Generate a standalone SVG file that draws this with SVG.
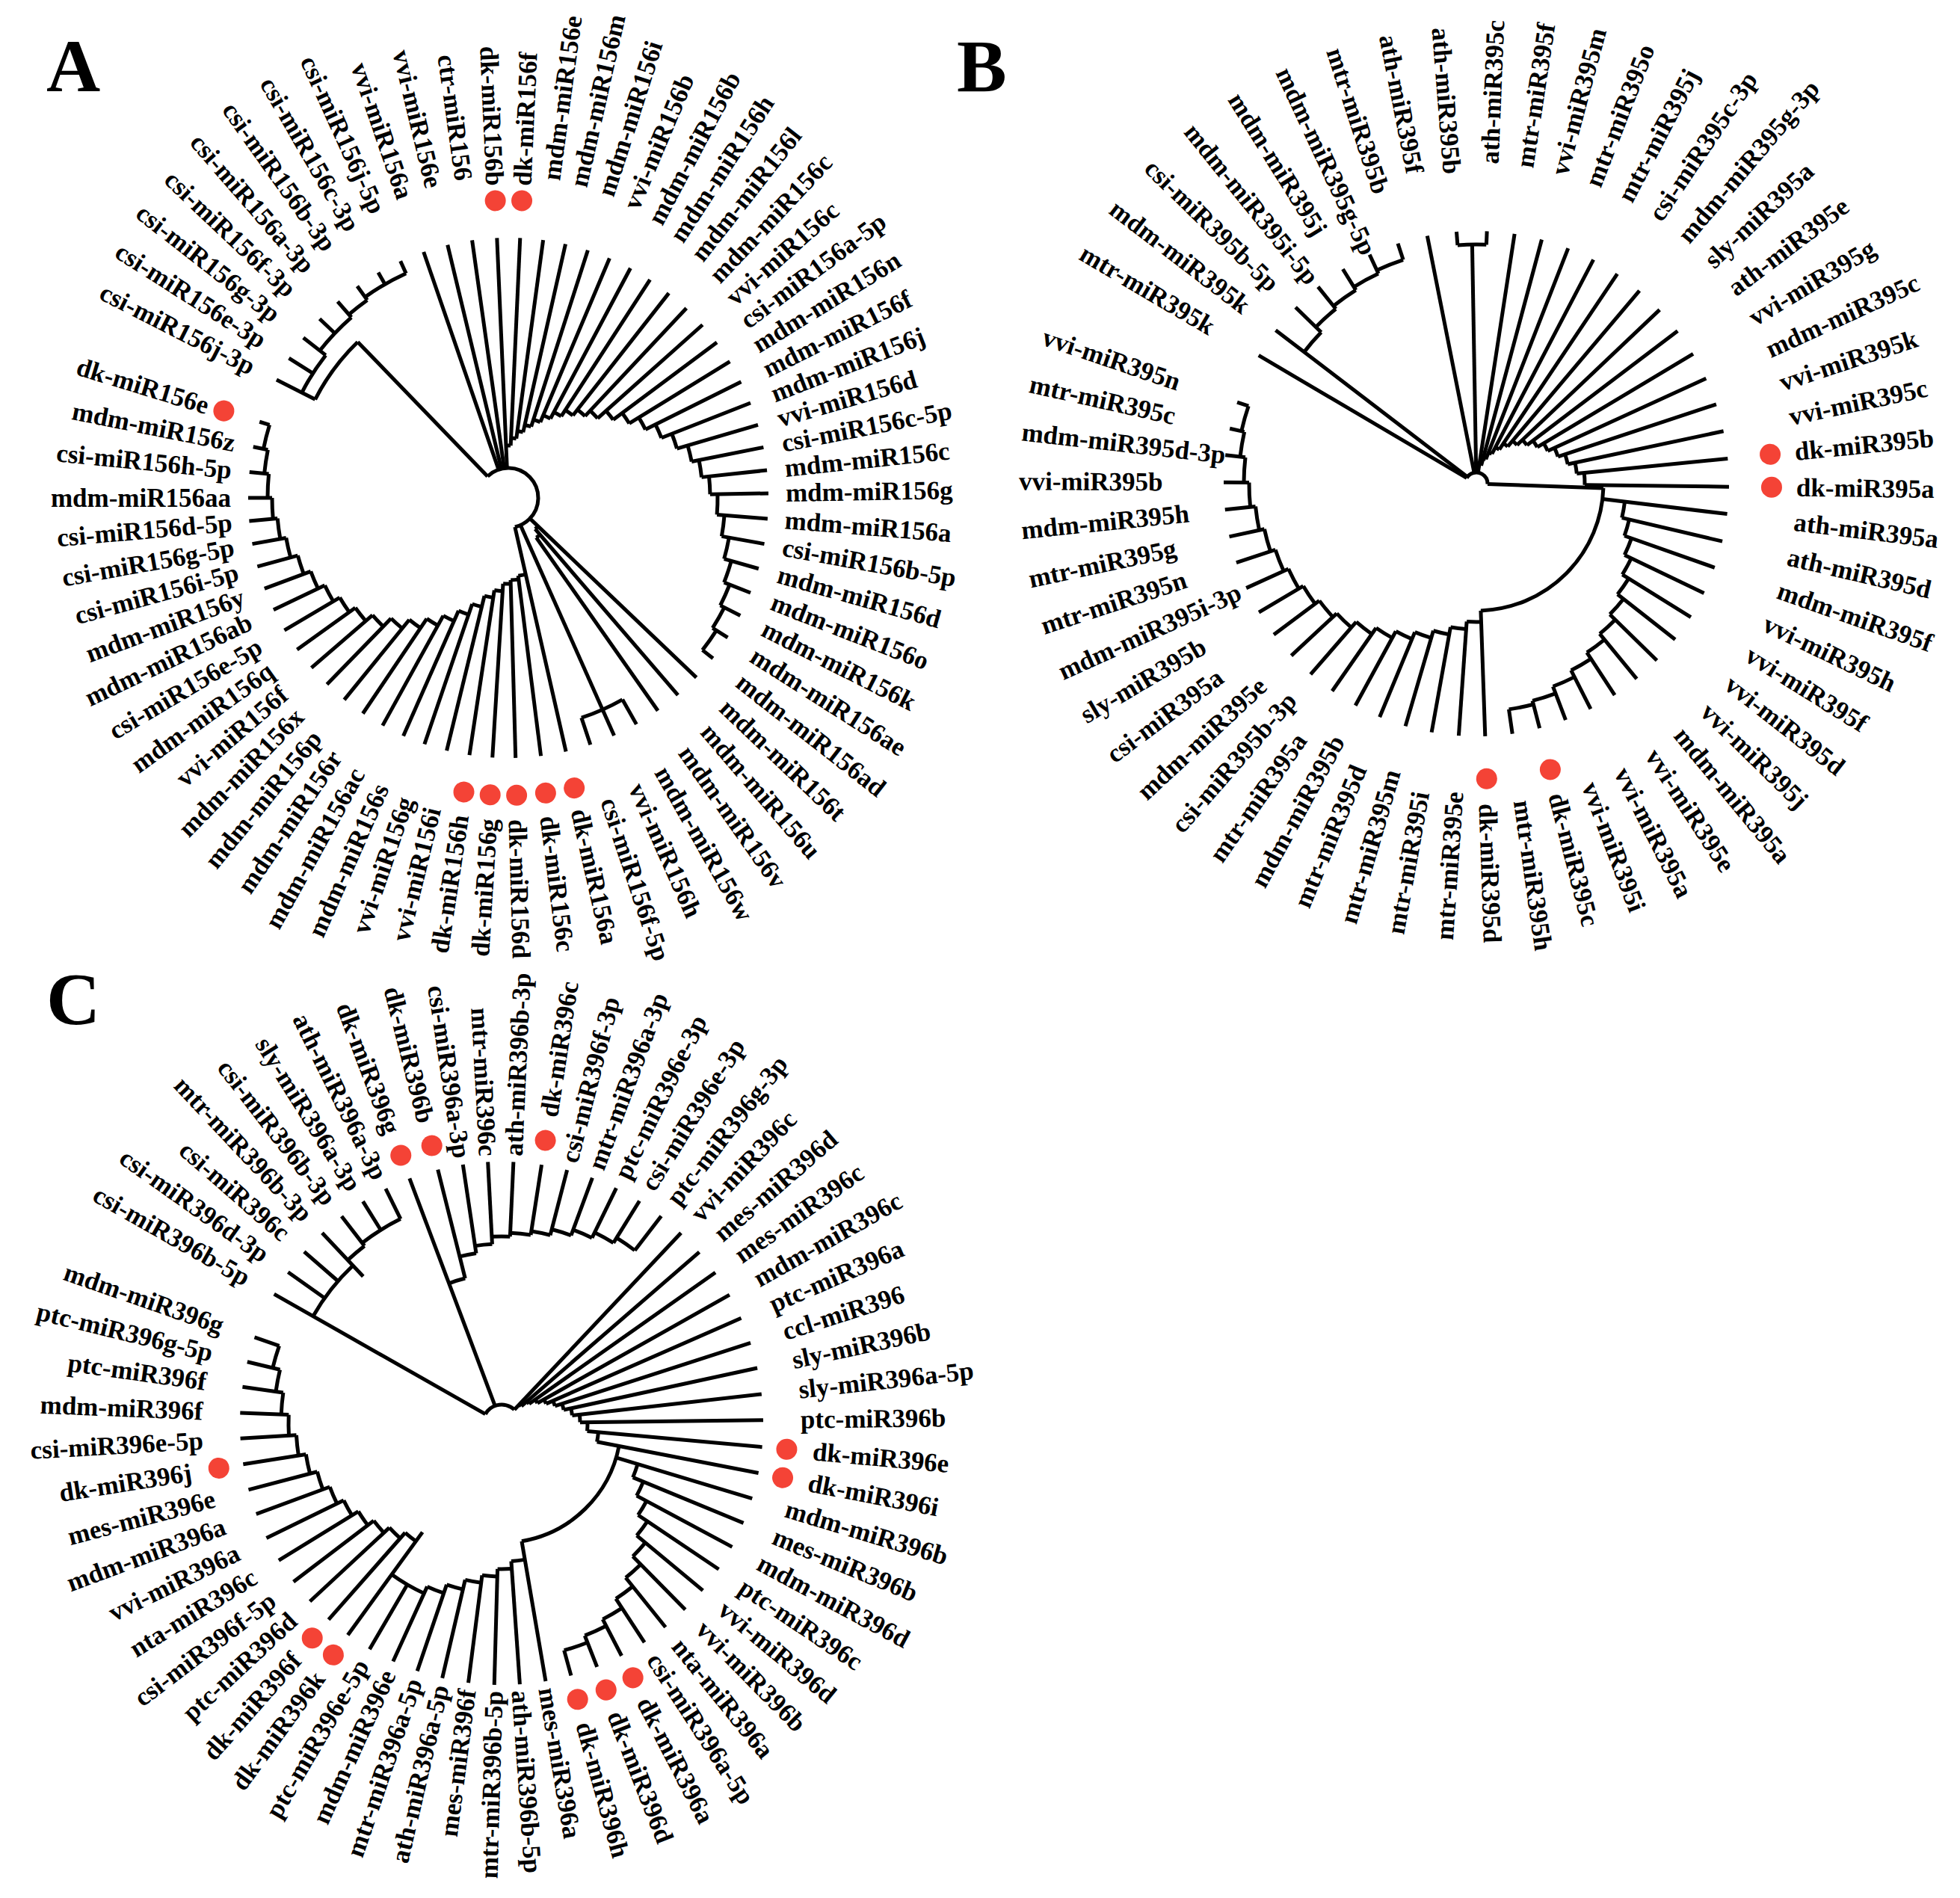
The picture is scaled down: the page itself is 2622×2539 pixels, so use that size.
<svg xmlns="http://www.w3.org/2000/svg" width="2622" height="2539" viewBox="0 0 2622 2539">
<style>
.t text{font-family:"Liberation Serif","Times New Roman",serif;font-weight:bold;font-size:35px;fill:#000;dominant-baseline:central}
.t .f{text-anchor:end}
.t .n{text-anchor:start}
.br line,.br circle{stroke:#000;stroke-width:5;fill:none}
.dots circle{fill:#f44336;stroke:none}
.lt{font-family:"Liberation Serif","Times New Roman",serif;font-weight:bold;font-size:100px;fill:#000}
</style>
<rect width="2622" height="2539" fill="#fff"/>
<text class="lt" x="62" y="122">A</text>
<text class="lt" x="1280" y="122">B</text>
<text class="lt" x="62" y="1370">C</text>

<!-- TREE A -->
<g id="treeA" transform="translate(680,666)">
<g id="A-connectors" class="br">
<circle r="40" pathLength="360" stroke-dasharray="211.2 360" transform="rotate(226)"/>
<line x1="40" x2="290" transform="rotate(226)"/>
<circle r="290" pathLength="360" stroke-dasharray="19 360" transform="rotate(207)"/>
<circle r="310" pathLength="360" stroke-dasharray="11 360" transform="rotate(207)"/>
<circle r="320" pathLength="360" stroke-dasharray="11 360" transform="rotate(218)"/>
<circle r="325" pathLength="360" stroke-dasharray="5.5 360" transform="rotate(229)"/>
<circle r="330" pathLength="360" stroke-dasharray="11 360" transform="rotate(234.5)"/>
<circle r="70" pathLength="360" stroke-dasharray="5.1 360" transform="rotate(267.5)"/>
<circle r="80" pathLength="360" stroke-dasharray="5.1 360" transform="rotate(272.6)"/>
<circle r="90" pathLength="360" stroke-dasharray="5 360" transform="rotate(277.7)"/>
<circle r="100" pathLength="360" stroke-dasharray="5.1 360" transform="rotate(282.7)"/>
<circle r="110" pathLength="360" stroke-dasharray="5.1 360" transform="rotate(287.8)"/>
<circle r="120" pathLength="360" stroke-dasharray="5.1 360" transform="rotate(292.9)"/>
<circle r="130" pathLength="360" stroke-dasharray="5 360" transform="rotate(298)"/>
<circle r="140" pathLength="360" stroke-dasharray="5.1 360" transform="rotate(303)"/>
<circle r="150" pathLength="360" stroke-dasharray="5.1 360" transform="rotate(308.1)"/>
<circle r="160" pathLength="360" stroke-dasharray="5.1 360" transform="rotate(313.2)"/>
<circle r="175" pathLength="360" stroke-dasharray="5 360" transform="rotate(318.3)"/>
<circle r="190" pathLength="360" stroke-dasharray="5.1 360" transform="rotate(323.3)"/>
<circle r="205" pathLength="360" stroke-dasharray="5.1 360" transform="rotate(328.4)"/>
<circle r="220" pathLength="360" stroke-dasharray="5.1 360" transform="rotate(333.5)"/>
<circle r="235" pathLength="360" stroke-dasharray="5.1 360" transform="rotate(338.6)"/>
<circle r="250" pathLength="360" stroke-dasharray="5.1 360" transform="rotate(343.7)"/>
<circle r="260" pathLength="360" stroke-dasharray="5.1 360" transform="rotate(348.8)"/>
<circle r="270" pathLength="360" stroke-dasharray="5.1 360" transform="rotate(353.9)"/>
<circle r="280" pathLength="360" stroke-dasharray="5.6 360" transform="rotate(359)"/>
<circle r="290" pathLength="360" stroke-dasharray="5.6 360" transform="rotate(4.6)"/>
<circle r="300" pathLength="360" stroke-dasharray="5.6 360" transform="rotate(10.2)"/>
<circle r="310" pathLength="360" stroke-dasharray="5.6 360" transform="rotate(15.8)"/>
<circle r="318" pathLength="360" stroke-dasharray="5.5 360" transform="rotate(21.4)"/>
<circle r="324" pathLength="360" stroke-dasharray="5.6 360" transform="rotate(26.9)"/>
<circle r="330" pathLength="360" stroke-dasharray="5.6 360" transform="rotate(32.5)"/>
<circle r="55" pathLength="360" stroke-dasharray="5.6 360" transform="rotate(43.7)"/>
<circle r="65" pathLength="360" stroke-dasharray="5.6 360" transform="rotate(49.3)"/>
<line x1="40" x2="310" transform="rotate(66)"/>
<circle r="310" pathLength="360" stroke-dasharray="11.1 360" transform="rotate(60.5)"/>
<circle r="105" pathLength="360" stroke-dasharray="5.6 360" transform="rotate(77.2)"/>
<circle r="110" pathLength="360" stroke-dasharray="5.6 360" transform="rotate(82.8)"/>
<circle r="115" pathLength="360" stroke-dasharray="5.1 360" transform="rotate(88.4)"/>
<circle r="125" pathLength="360" stroke-dasharray="5.1 360" transform="rotate(93.5)"/>
<circle r="135" pathLength="360" stroke-dasharray="5.1 360" transform="rotate(98.6)"/>
<circle r="150" pathLength="360" stroke-dasharray="5.1 360" transform="rotate(103.7)"/>
<circle r="165" pathLength="360" stroke-dasharray="5 360" transform="rotate(108.8)"/>
<circle r="180" pathLength="360" stroke-dasharray="5.1 360" transform="rotate(113.8)"/>
<circle r="195" pathLength="360" stroke-dasharray="5.1 360" transform="rotate(118.9)"/>
<circle r="210" pathLength="360" stroke-dasharray="5.1 360" transform="rotate(124)"/>
<circle r="225" pathLength="360" stroke-dasharray="5.1 360" transform="rotate(129.1)"/>
<circle r="240" pathLength="360" stroke-dasharray="5 360" transform="rotate(134.2)"/>
<circle r="252" pathLength="360" stroke-dasharray="5.1 360" transform="rotate(139.2)"/>
<circle r="262" pathLength="360" stroke-dasharray="5.1 360" transform="rotate(144.3)"/>
<circle r="272" pathLength="360" stroke-dasharray="5.1 360" transform="rotate(149.4)"/>
<circle r="282" pathLength="360" stroke-dasharray="5.1 360" transform="rotate(154.5)"/>
<circle r="292" pathLength="360" stroke-dasharray="5.1 360" transform="rotate(159.6)"/>
<circle r="302" pathLength="360" stroke-dasharray="5.1 360" transform="rotate(164.7)"/>
<circle r="310" pathLength="360" stroke-dasharray="5.1 360" transform="rotate(169.8)"/>
<circle r="316" pathLength="360" stroke-dasharray="5.1 360" transform="rotate(174.9)"/>
<circle r="322" pathLength="360" stroke-dasharray="5.7 360" transform="rotate(180)"/>
<circle r="328" pathLength="360" stroke-dasharray="5.6 360" transform="rotate(185.7)"/>
<circle r="334" pathLength="360" stroke-dasharray="5.7 360" transform="rotate(191.3)"/>
<line x1="290" x2="348" transform="rotate(207)"/>
<line x1="310" x2="348" transform="rotate(212.5)"/>
<line x1="310" x2="348" transform="rotate(218)"/>
<line x1="320" x2="348" transform="rotate(223.5)"/>
<line x1="320" x2="348" transform="rotate(229)"/>
<line x1="325" x2="348" transform="rotate(234.5)"/>
<line x1="330" x2="348" transform="rotate(240)"/>
<line x1="330" x2="348" transform="rotate(245.5)"/>
<line x1="40" x2="348" transform="rotate(251)"/>
<line x1="40" x2="348" transform="rotate(256.5)"/>
<line x1="40" x2="348" transform="rotate(262)"/>
<line x1="40" x2="348" transform="rotate(267.5)"/>
<line x1="70" x2="348" transform="rotate(272.6)"/>
<line x1="80" x2="348" transform="rotate(277.7)"/>
<line x1="90" x2="348" transform="rotate(282.7)"/>
<line x1="100" x2="348" transform="rotate(287.8)"/>
<line x1="110" x2="348" transform="rotate(292.9)"/>
<line x1="120" x2="348" transform="rotate(298)"/>
<line x1="130" x2="348" transform="rotate(303)"/>
<line x1="140" x2="348" transform="rotate(308.1)"/>
<line x1="150" x2="348" transform="rotate(313.2)"/>
<line x1="160" x2="348" transform="rotate(318.3)"/>
<line x1="175" x2="348" transform="rotate(323.3)"/>
<line x1="190" x2="348" transform="rotate(328.4)"/>
<line x1="205" x2="348" transform="rotate(333.5)"/>
<line x1="220" x2="348" transform="rotate(338.6)"/>
<line x1="235" x2="348" transform="rotate(343.7)"/>
<line x1="250" x2="348" transform="rotate(348.8)"/>
<line x1="260" x2="348" transform="rotate(353.9)"/>
<line x1="270" x2="348" transform="rotate(359)"/>
<line x1="280" x2="348" transform="rotate(4.6)"/>
<line x1="290" x2="348" transform="rotate(10.2)"/>
<line x1="300" x2="348" transform="rotate(15.8)"/>
<line x1="310" x2="348" transform="rotate(21.4)"/>
<line x1="318" x2="348" transform="rotate(26.9)"/>
<line x1="324" x2="348" transform="rotate(32.5)"/>
<line x1="330" x2="348" transform="rotate(38.1)"/>
<line x1="40" x2="348" transform="rotate(43.7)"/>
<line x1="55" x2="348" transform="rotate(49.3)"/>
<line x1="65" x2="348" transform="rotate(54.9)"/>
<line x1="310" x2="348" transform="rotate(60.5)"/>
<line x1="310" x2="348" transform="rotate(66)"/>
<line x1="310" x2="348" transform="rotate(71.6)"/>
<line x1="40" x2="348" transform="rotate(77.2)"/>
<line x1="105" x2="348" transform="rotate(82.8)"/>
<line x1="110" x2="348" transform="rotate(88.4)"/>
<line x1="115" x2="348" transform="rotate(93.5)"/>
<line x1="125" x2="348" transform="rotate(98.6)"/>
<line x1="135" x2="348" transform="rotate(103.7)"/>
<line x1="150" x2="348" transform="rotate(108.8)"/>
<line x1="165" x2="348" transform="rotate(113.8)"/>
<line x1="180" x2="348" transform="rotate(118.9)"/>
<line x1="195" x2="348" transform="rotate(124)"/>
<line x1="210" x2="348" transform="rotate(129.1)"/>
<line x1="225" x2="348" transform="rotate(134.2)"/>
<line x1="240" x2="348" transform="rotate(139.2)"/>
<line x1="252" x2="348" transform="rotate(144.3)"/>
<line x1="262" x2="348" transform="rotate(149.4)"/>
<line x1="272" x2="348" transform="rotate(154.5)"/>
<line x1="282" x2="348" transform="rotate(159.6)"/>
<line x1="292" x2="348" transform="rotate(164.7)"/>
<line x1="302" x2="348" transform="rotate(169.8)"/>
<line x1="310" x2="348" transform="rotate(174.9)"/>
<line x1="316" x2="348" transform="rotate(180)"/>
<line x1="322" x2="348" transform="rotate(185.7)"/>
<line x1="328" x2="348" transform="rotate(191.3)"/>
<line x1="334" x2="348" transform="rotate(197)"/>
</g>
<g class="dots">
<circle cx="398" r="14" transform="rotate(267.5)"/>
<circle cx="398" r="14" transform="rotate(272.6)"/>
<circle cx="398" r="14" transform="rotate(77.2)"/>
<circle cx="398" r="14" transform="rotate(82.8)"/>
<circle cx="398" r="14" transform="rotate(88.4)"/>
<circle cx="398" r="14" transform="rotate(93.5)"/>
<circle cx="398" r="14" transform="rotate(98.6)"/>
<circle cx="398" r="14" transform="rotate(197)"/>
</g>
<g id="A-labels" class="t">
<text id="A1" class="f" transform="rotate(207) translate(383,0) rotate(180)">csi-miR156j-3p</text>
<text id="A2" class="f" transform="rotate(212.5) translate(388,0) rotate(180)">csi-miR156e-3p</text>
<text id="A3" class="f" transform="rotate(218) translate(393,0) rotate(180)">csi-miR156g-3p</text>
<text id="A4" class="f" transform="rotate(223.5) translate(399,0) rotate(180)">csi-miR156f-3p</text>
<text id="A5" class="f" transform="rotate(229) translate(405,0) rotate(180)">csi-miR156a-3p</text>
<text id="A6" class="f" transform="rotate(234.5) translate(410,0) rotate(180)">csi-miR156b-3p</text>
<text id="A7" class="f" transform="rotate(240) translate(415,0) rotate(180)">csi-miR156c-3p</text>
<text id="A8" class="f" transform="rotate(245.5) translate(420,0) rotate(180)">csi-miR156j-5p</text>
<text id="A9" class="f" transform="rotate(251) translate(424,0) rotate(180)">vvi-miR156a</text>
<text id="A10" class="f" transform="rotate(256.5) translate(427,0) rotate(180)">vvi-miR156e</text>
<text id="A11" class="f" transform="rotate(262) translate(429,0) rotate(180)">ctr-miR156</text>
<text id="A12" class="f" transform="rotate(267.5) translate(418,0) rotate(180)">dk-miR156b</text>
<text id="A13" class="n" transform="rotate(272.6) translate(418,0)">dk-miR156f</text>
<text id="A14" class="n" transform="rotate(277.7) translate(429,0)">mdm-miR156e</text>
<text id="A15" class="n" transform="rotate(282.7) translate(427,0)">mdm-miR156m</text>
<text id="A16" class="n" transform="rotate(287.8) translate(425,0)">mdm-miR156i</text>
<text id="A17" class="n" transform="rotate(292.9) translate(421,0)">vvi-miR156b</text>
<text id="A18" class="n" transform="rotate(298) translate(417,0)">mdm-miR156b</text>
<text id="A19" class="n" transform="rotate(303) translate(412,0)">mdm-miR156h</text>
<text id="A20" class="n" transform="rotate(308.1) translate(408,0)">mdm-miR156l</text>
<text id="A21" class="n" transform="rotate(313.2) translate(402,0)">mdm-miR156c</text>
<text id="A22" class="n" transform="rotate(318.3) translate(397,0)">vvi-miR156c</text>
<text id="A23" class="n" transform="rotate(323.3) translate(392,0)">csi-miR156a-5p</text>
<text id="A24" class="n" transform="rotate(328.4) translate(387,0)">mdm-miR156n</text>
<text id="A25" class="n" transform="rotate(333.5) translate(383,0)">mdm-miR156f</text>
<text id="A26" class="n" transform="rotate(338.6) translate(379,0)">mdm-miR156j</text>
<text id="A27" class="n" transform="rotate(343.7) translate(376,0)">vvi-miR156d</text>
<text id="A28" class="n" transform="rotate(348.8) translate(373,0)">csi-miR156c-5p</text>
<text id="A29" class="n" transform="rotate(353.9) translate(372,0)">mdm-miR156c</text>
<text id="A30" class="n" transform="rotate(359) translate(371,0)">mdm-miR156g</text>
<text id="A31" class="n" transform="rotate(4.6) translate(371,0)">mdm-miR156a</text>
<text id="A32" class="n" transform="rotate(10.2) translate(373,0)">csi-miR156b-5p</text>
<text id="A33" class="n" transform="rotate(15.8) translate(375,0)">mdm-miR156d</text>
<text id="A34" class="n" transform="rotate(21.4) translate(379,0)">mdm-miR156o</text>
<text id="A35" class="n" transform="rotate(26.9) translate(383,0)">mdm-miR156k</text>
<text id="A36" class="n" transform="rotate(32.5) translate(388,0)">mdm-miR156ae</text>
<text id="A37" class="n" transform="rotate(38.1) translate(393,0)">mdm-miR156ad</text>
<text id="A38" class="n" transform="rotate(43.7) translate(399,0)">mdm-miR156t</text>
<text id="A39" class="n" transform="rotate(49.3) translate(405,0)">mdm-miR156u</text>
<text id="A40" class="n" transform="rotate(54.9) translate(410,0)">mdm-miR156v</text>
<text id="A41" class="n" transform="rotate(60.5) translate(416,0)">mdm-miR156w</text>
<text id="A42" class="n" transform="rotate(66) translate(420,0)">vvi-miR156h</text>
<text id="A43" class="n" transform="rotate(71.6) translate(424,0)">csi-miR156f-5p</text>
<text id="A44" class="n" transform="rotate(77.2) translate(427,0)">dk-miR156a</text>
<text id="A45" class="n" transform="rotate(82.8) translate(429,0)">dk-miR156c</text>
<text id="A46" class="n" transform="rotate(88.4) translate(430,0)">dk-miR156d</text>
<text id="A47" class="f" transform="rotate(93.5) translate(430,0) rotate(180)">dk-miR156g</text>
<text id="A48" class="f" transform="rotate(98.6) translate(429,0) rotate(180)">dk-miR156h</text>
<text id="A49" class="f" transform="rotate(103.7) translate(427,0) rotate(180)">vvi-miR156i</text>
<text id="A50" class="f" transform="rotate(108.8) translate(424,0) rotate(180)">vvi-miR156g</text>
<text id="A51" class="f" transform="rotate(113.8) translate(420,0) rotate(180)">mdm-miR156s</text>
<text id="A52" class="f" transform="rotate(118.9) translate(416,0) rotate(180)">mdm-miR156ac</text>
<text id="A53" class="f" transform="rotate(124) translate(412,0) rotate(180)">mdm-miR156r</text>
<text id="A54" class="f" transform="rotate(129.1) translate(407,0) rotate(180)">mdm-miR156p</text>
<text id="A55" class="f" transform="rotate(134.2) translate(401,0) rotate(180)">mdm-miR156x</text>
<text id="A56" class="f" transform="rotate(139.2) translate(396,0) rotate(180)">vvi-miR156f</text>
<text id="A57" class="f" transform="rotate(144.3) translate(391,0) rotate(180)">mdm-miR156q</text>
<text id="A58" class="f" transform="rotate(149.4) translate(386,0) rotate(180)">csi-miR156e-5p</text>
<text id="A59" class="f" transform="rotate(154.5) translate(382,0) rotate(180)">mdm-miR156ab</text>
<text id="A60" class="f" transform="rotate(159.6) translate(378,0) rotate(180)">mdm-miR156y</text>
<text id="A61" class="f" transform="rotate(164.7) translate(375,0) rotate(180)">csi-miR156i-5p</text>
<text id="A62" class="f" transform="rotate(169.8) translate(373,0) rotate(180)">csi-miR156g-5p</text>
<text id="A63" class="f" transform="rotate(174.9) translate(371,0) rotate(180)">csi-miR156d-5p</text>
<text id="A64" class="f" transform="rotate(180) translate(371,0) rotate(180)">mdm-miR156aa</text>
<text id="A65" class="f" transform="rotate(185.7) translate(372,0) rotate(180)">csi-miR156h-5p</text>
<text id="A66" class="f" transform="rotate(191.3) translate(373,0) rotate(180)">mdm-miR156z</text>
<text id="A67" class="f" transform="rotate(197) translate(420,0) rotate(180)">dk-miR156e</text>
</g>
</g>

<!-- TREE B -->
<g id="treeB" transform="translate(1975,647)">
<g id="B-connectors" class="br">
<circle r="15" pathLength="360" stroke-dasharray="151.5 360" transform="rotate(210.5)"/>
<line x1="15" x2="320" transform="rotate(269)"/>
<circle r="320" pathLength="360" stroke-dasharray="6.9 360" transform="rotate(265.5)"/>
<circle r="25" pathLength="360" stroke-dasharray="6.3 360" transform="rotate(278.7)"/>
<circle r="35" pathLength="360" stroke-dasharray="6.3 360" transform="rotate(285)"/>
<circle r="45" pathLength="360" stroke-dasharray="6.3 360" transform="rotate(291.3)"/>
<circle r="55" pathLength="360" stroke-dasharray="6.3 360" transform="rotate(297.6)"/>
<circle r="65" pathLength="360" stroke-dasharray="6.3 360" transform="rotate(303.9)"/>
<circle r="75" pathLength="360" stroke-dasharray="6.3 360" transform="rotate(310.2)"/>
<circle r="85" pathLength="360" stroke-dasharray="6.3 360" transform="rotate(316.5)"/>
<circle r="95" pathLength="360" stroke-dasharray="6.3 360" transform="rotate(322.8)"/>
<circle r="105" pathLength="360" stroke-dasharray="6.3 360" transform="rotate(329.1)"/>
<circle r="115" pathLength="360" stroke-dasharray="6.3 360" transform="rotate(335.4)"/>
<circle r="125" pathLength="360" stroke-dasharray="6.3 360" transform="rotate(341.7)"/>
<circle r="135" pathLength="360" stroke-dasharray="6.3 360" transform="rotate(348)"/>
<circle r="145" pathLength="360" stroke-dasharray="6.4 360" transform="rotate(354.3)"/>
<line x1="15" x2="170" transform="rotate(2)"/>
<circle r="170" pathLength="360" stroke-dasharray="86 360" transform="rotate(2)"/>
<circle r="200" pathLength="360" stroke-dasharray="6.3 360" transform="rotate(6.9)"/>
<circle r="210" pathLength="360" stroke-dasharray="6.2 360" transform="rotate(13.2)"/>
<circle r="220" pathLength="360" stroke-dasharray="6.3 360" transform="rotate(19.4)"/>
<circle r="230" pathLength="360" stroke-dasharray="6.2 360" transform="rotate(25.7)"/>
<circle r="240" pathLength="360" stroke-dasharray="6.2 360" transform="rotate(31.9)"/>
<circle r="250" pathLength="360" stroke-dasharray="6.3 360" transform="rotate(38.1)"/>
<circle r="260" pathLength="360" stroke-dasharray="6.2 360" transform="rotate(44.4)"/>
<circle r="270" pathLength="360" stroke-dasharray="6.2 360" transform="rotate(50.6)"/>
<circle r="280" pathLength="360" stroke-dasharray="6.3 360" transform="rotate(56.8)"/>
<circle r="290" pathLength="360" stroke-dasharray="6.2 360" transform="rotate(63.1)"/>
<circle r="300" pathLength="360" stroke-dasharray="6.2 360" transform="rotate(69.3)"/>
<circle r="305" pathLength="360" stroke-dasharray="6.3 360" transform="rotate(75.5)"/>
<circle r="185" pathLength="360" stroke-dasharray="6 360" transform="rotate(88)"/>
<circle r="195" pathLength="360" stroke-dasharray="6.2 360" transform="rotate(94)"/>
<circle r="205" pathLength="360" stroke-dasharray="6.1 360" transform="rotate(100.2)"/>
<circle r="215" pathLength="360" stroke-dasharray="6.2 360" transform="rotate(106.3)"/>
<circle r="225" pathLength="360" stroke-dasharray="6.1 360" transform="rotate(112.5)"/>
<circle r="235" pathLength="360" stroke-dasharray="6.2 360" transform="rotate(118.6)"/>
<circle r="245" pathLength="360" stroke-dasharray="6.2 360" transform="rotate(124.8)"/>
<circle r="255" pathLength="360" stroke-dasharray="6.1 360" transform="rotate(131)"/>
<circle r="262" pathLength="360" stroke-dasharray="6.2 360" transform="rotate(137.1)"/>
<circle r="269" pathLength="360" stroke-dasharray="6.1 360" transform="rotate(143.3)"/>
<circle r="276" pathLength="360" stroke-dasharray="6.2 360" transform="rotate(149.4)"/>
<circle r="283" pathLength="360" stroke-dasharray="6.2 360" transform="rotate(155.6)"/>
<circle r="290" pathLength="360" stroke-dasharray="6.1 360" transform="rotate(161.8)"/>
<circle r="297" pathLength="360" stroke-dasharray="6.2 360" transform="rotate(167.9)"/>
<circle r="304" pathLength="360" stroke-dasharray="6.2 360" transform="rotate(174.1)"/>
<circle r="311" pathLength="360" stroke-dasharray="6.2 360" transform="rotate(180.3)"/>
<circle r="318" pathLength="360" stroke-dasharray="6.1 360" transform="rotate(186.5)"/>
<circle r="322" pathLength="360" stroke-dasharray="6.2 360" transform="rotate(192.6)"/>
<circle r="290" pathLength="360" stroke-dasharray="6.9 360" transform="rotate(217.4)"/>
<circle r="300" pathLength="360" stroke-dasharray="6.9 360" transform="rotate(224.3)"/>
<circle r="305" pathLength="360" stroke-dasharray="6.9 360" transform="rotate(231.2)"/>
<circle r="310" pathLength="360" stroke-dasharray="6.9 360" transform="rotate(238.1)"/>
<circle r="315" pathLength="360" stroke-dasharray="6.9 360" transform="rotate(245)"/>
<line x1="320" x2="338" transform="rotate(265.5)"/>
<line x1="320" x2="338" transform="rotate(272.4)"/>
<line x1="15" x2="338" transform="rotate(278.7)"/>
<line x1="25" x2="338" transform="rotate(285)"/>
<line x1="35" x2="338" transform="rotate(291.3)"/>
<line x1="45" x2="338" transform="rotate(297.6)"/>
<line x1="55" x2="338" transform="rotate(303.9)"/>
<line x1="65" x2="338" transform="rotate(310.2)"/>
<line x1="75" x2="338" transform="rotate(316.5)"/>
<line x1="85" x2="338" transform="rotate(322.8)"/>
<line x1="95" x2="338" transform="rotate(329.1)"/>
<line x1="105" x2="338" transform="rotate(335.4)"/>
<line x1="115" x2="338" transform="rotate(341.7)"/>
<line x1="125" x2="338" transform="rotate(348)"/>
<line x1="135" x2="338" transform="rotate(354.3)"/>
<line x1="145" x2="338" transform="rotate(0.7)"/>
<line x1="170" x2="338" transform="rotate(6.9)"/>
<line x1="200" x2="338" transform="rotate(13.2)"/>
<line x1="210" x2="338" transform="rotate(19.4)"/>
<line x1="220" x2="338" transform="rotate(25.7)"/>
<line x1="230" x2="338" transform="rotate(31.9)"/>
<line x1="240" x2="338" transform="rotate(38.1)"/>
<line x1="250" x2="338" transform="rotate(44.4)"/>
<line x1="260" x2="338" transform="rotate(50.6)"/>
<line x1="270" x2="338" transform="rotate(56.8)"/>
<line x1="280" x2="338" transform="rotate(63.1)"/>
<line x1="290" x2="338" transform="rotate(69.3)"/>
<line x1="300" x2="338" transform="rotate(75.5)"/>
<line x1="305" x2="338" transform="rotate(81.8)"/>
<line x1="170" x2="338" transform="rotate(88)"/>
<line x1="185" x2="338" transform="rotate(94)"/>
<line x1="195" x2="338" transform="rotate(100.2)"/>
<line x1="205" x2="338" transform="rotate(106.3)"/>
<line x1="215" x2="338" transform="rotate(112.5)"/>
<line x1="225" x2="338" transform="rotate(118.6)"/>
<line x1="235" x2="338" transform="rotate(124.8)"/>
<line x1="245" x2="338" transform="rotate(131)"/>
<line x1="255" x2="338" transform="rotate(137.1)"/>
<line x1="262" x2="338" transform="rotate(143.3)"/>
<line x1="269" x2="338" transform="rotate(149.4)"/>
<line x1="276" x2="338" transform="rotate(155.6)"/>
<line x1="283" x2="338" transform="rotate(161.8)"/>
<line x1="290" x2="338" transform="rotate(167.9)"/>
<line x1="297" x2="338" transform="rotate(174.1)"/>
<line x1="304" x2="338" transform="rotate(180.3)"/>
<line x1="311" x2="338" transform="rotate(186.5)"/>
<line x1="318" x2="338" transform="rotate(192.6)"/>
<line x1="322" x2="338" transform="rotate(198.8)"/>
<line x1="15" x2="338" transform="rotate(210.5)"/>
<line x1="15" x2="338" transform="rotate(217.4)"/>
<line x1="290" x2="338" transform="rotate(224.3)"/>
<line x1="300" x2="338" transform="rotate(231.2)"/>
<line x1="305" x2="338" transform="rotate(238.1)"/>
<line x1="310" x2="338" transform="rotate(245)"/>
<line x1="315" x2="338" transform="rotate(251.9)"/>
<line x1="15" x2="338" transform="rotate(258.8)"/>
</g>
<g class="dots">
<circle cx="395" r="14" transform="rotate(354.3)"/>
<circle cx="395" r="14" transform="rotate(0.7)"/>
<circle cx="395" r="14" transform="rotate(75.5)"/>
<circle cx="395" r="14" transform="rotate(88)"/>
</g>
<g id="B-labels" class="t">
<text id="B1" class="n" transform="rotate(265.5) translate(612,0) rotate(180)">ath-miR395b</text>
<text id="B2" class="n" transform="rotate(272.4) translate(428,0)">ath-miR395c</text>
<text id="B3" class="n" transform="rotate(278.7) translate(428,0)">mtr-miR395f</text>
<text id="B4" class="n" transform="rotate(285) translate(428,0)">vvi-miR395m</text>
<text id="B5" class="n" transform="rotate(291.3) translate(428,0)">mtr-miR395o</text>
<text id="B6" class="n" transform="rotate(297.6) translate(428,0)">mtr-miR395j</text>
<text id="B7" class="n" transform="rotate(303.9) translate(428,0)">csi-miR395c-3p</text>
<text id="B8" class="n" transform="rotate(310.2) translate(428,0)">mdm-miR395g-3p</text>
<text id="B9" class="n" transform="rotate(316.5) translate(428,0)">sly-miR395a</text>
<text id="B10" class="n" transform="rotate(322.8) translate(428,0)">ath-miR395e</text>
<text id="B11" class="n" transform="rotate(329.1) translate(428,0)">vvi-miR395g</text>
<text id="B12" class="n" transform="rotate(335.4) translate(428,0)">mdm-miR395c</text>
<text id="B13" class="n" transform="rotate(341.7) translate(428,0)">vvi-miR395k</text>
<text id="B14" class="n" transform="rotate(348) translate(428,0)">vvi-miR395c</text>
<text id="B15" class="n" transform="rotate(354.3) translate(428,0)">dk-miR395b</text>
<text id="B16" class="n" transform="rotate(0.7) translate(428,0)">dk-miR395a</text>
<text id="B17" class="n" transform="rotate(6.9) translate(428,0)">ath-miR395a</text>
<text id="B18" class="n" transform="rotate(13.2) translate(428,0)">ath-miR395d</text>
<text id="B19" class="n" transform="rotate(19.4) translate(428,0)">mdm-miR395f</text>
<text id="B20" class="n" transform="rotate(25.7) translate(428,0)">vvi-miR395h</text>
<text id="B21" class="n" transform="rotate(31.9) translate(428,0)">vvi-miR395f</text>
<text id="B22" class="n" transform="rotate(38.1) translate(428,0)">vvi-miR395d</text>
<text id="B23" class="n" transform="rotate(44.4) translate(428,0)">vvi-miR395j</text>
<text id="B24" class="n" transform="rotate(50.6) translate(428,0)">mdm-miR395a</text>
<text id="B25" class="n" transform="rotate(56.8) translate(428,0)">vvi-miR395e</text>
<text id="B26" class="n" transform="rotate(63.1) translate(428,0)">vvi-miR395a</text>
<text id="B27" class="n" transform="rotate(69.3) translate(428,0)">vvi-miR395i</text>
<text id="B28" class="n" transform="rotate(75.5) translate(428,0)">dk-miR395c</text>
<text id="B29" class="n" transform="rotate(81.8) translate(428,0)">mtr-miR395h</text>
<text id="B30" class="n" transform="rotate(88) translate(428,0)">dk-miR395d</text>
<text id="B31" class="n" transform="rotate(94) translate(612,0) rotate(180)">mtr-miR395e</text>
<text id="B32" class="n" transform="rotate(100.2) translate(612,0) rotate(180)">mtr-miR395i</text>
<text id="B33" class="n" transform="rotate(106.3) translate(612,0) rotate(180)">mtr-miR395m</text>
<text id="B34" class="n" transform="rotate(112.5) translate(612,0) rotate(180)">mtr-miR395d</text>
<text id="B35" class="n" transform="rotate(118.6) translate(612,0) rotate(180)">mdm-miR395b</text>
<text id="B36" class="n" transform="rotate(124.8) translate(612,0) rotate(180)">mtr-miR395a</text>
<text id="B37" class="n" transform="rotate(131) translate(612,0) rotate(180)">csi-miR395b-3p</text>
<text id="B38" class="n" transform="rotate(137.1) translate(612,0) rotate(180)">mdm-miR395e</text>
<text id="B39" class="n" transform="rotate(143.3) translate(612,0) rotate(180)">csi-miR395a</text>
<text id="B40" class="n" transform="rotate(149.4) translate(612,0) rotate(180)">sly-miR395b</text>
<text id="B41" class="n" transform="rotate(155.6) translate(612,0) rotate(180)">mdm-miR395i-3p</text>
<text id="B42" class="n" transform="rotate(161.8) translate(612,0) rotate(180)">mtr-miR395n</text>
<text id="B43" class="n" transform="rotate(167.9) translate(612,0) rotate(180)">mtr-miR395g</text>
<text id="B44" class="n" transform="rotate(174.1) translate(612,0) rotate(180)">mdm-miR395h</text>
<text id="B45" class="n" transform="rotate(180.3) translate(612,0) rotate(180)">vvi-miR395b</text>
<text id="B46" class="n" transform="rotate(186.5) translate(612,0) rotate(180)">mdm-miR395d-3p</text>
<text id="B47" class="n" transform="rotate(192.6) translate(612,0) rotate(180)">mtr-miR395c</text>
<text id="B48" class="n" transform="rotate(198.8) translate(612,0) rotate(180)">vvi-miR395n</text>
<text id="B49" class="n" transform="rotate(210.5) translate(612,0) rotate(180)">mtr-miR395k</text>
<text id="B50" class="n" transform="rotate(217.4) translate(612,0) rotate(180)">mdm-miR395k</text>
<text id="B51" class="n" transform="rotate(224.3) translate(612,0) rotate(180)">csi-miR395b-5p</text>
<text id="B52" class="n" transform="rotate(231.2) translate(612,0) rotate(180)">mdm-miR395i-5p</text>
<text id="B53" class="n" transform="rotate(238.1) translate(612,0) rotate(180)">mdm-miR395j</text>
<text id="B54" class="n" transform="rotate(245) translate(612,0) rotate(180)">mdm-miR395g-5p</text>
<text id="B55" class="n" transform="rotate(251.9) translate(612,0) rotate(180)">mtr-miR395b</text>
<text id="B56" class="n" transform="rotate(258.8) translate(612,0) rotate(180)">ath-miR395f</text>
</g>
</g>

<!-- TREE C -->
<g id="treeC" transform="translate(671,1904)">
<g id="C-connectors" class="br">
<circle r="25" pathLength="360" stroke-dasharray="103.7 360" transform="rotate(209.6)"/>
<circle r="290" pathLength="360" stroke-dasharray="17.1 360" transform="rotate(209.6)"/>
<circle r="300" pathLength="360" stroke-dasharray="5.6 360" transform="rotate(226.7)"/>
<circle r="305" pathLength="360" stroke-dasharray="11.4 360" transform="rotate(232.3)"/>
<circle r="200" pathLength="360" stroke-dasharray="6.5 360" transform="rotate(249.4)"/>
<circle r="230" pathLength="360" stroke-dasharray="5.6 360" transform="rotate(255.9)"/>
<circle r="240" pathLength="360" stroke-dasharray="5.5 360" transform="rotate(261.5)"/>
<circle r="250" pathLength="360" stroke-dasharray="5.6 360" transform="rotate(267)"/>
<circle r="255" pathLength="360" stroke-dasharray="6.2 360" transform="rotate(272.6)"/>
<circle r="260" pathLength="360" stroke-dasharray="5.7 360" transform="rotate(278.8)"/>
<circle r="268" pathLength="360" stroke-dasharray="5.8 360" transform="rotate(284.5)"/>
<circle r="276" pathLength="360" stroke-dasharray="5.7 360" transform="rotate(290.3)"/>
<circle r="284" pathLength="360" stroke-dasharray="5.8 360" transform="rotate(296)"/>
<circle r="292" pathLength="360" stroke-dasharray="5.8 360" transform="rotate(301.8)"/>
<circle r="35" pathLength="360" stroke-dasharray="5.8 360" transform="rotate(313.3)"/>
<circle r="45" pathLength="360" stroke-dasharray="5.7 360" transform="rotate(319.1)"/>
<circle r="55" pathLength="360" stroke-dasharray="5.8 360" transform="rotate(324.8)"/>
<circle r="65" pathLength="360" stroke-dasharray="5.7 360" transform="rotate(330.6)"/>
<circle r="75" pathLength="360" stroke-dasharray="5.8 360" transform="rotate(336.3)"/>
<circle r="85" pathLength="360" stroke-dasharray="5.7 360" transform="rotate(342.1)"/>
<circle r="95" pathLength="360" stroke-dasharray="5.8 360" transform="rotate(347.8)"/>
<circle r="105" pathLength="360" stroke-dasharray="5.7 360" transform="rotate(353.6)"/>
<circle r="115" pathLength="360" stroke-dasharray="5.9 360" transform="rotate(359.3)"/>
<circle r="130" pathLength="360" stroke-dasharray="5.75 360" transform="rotate(5.2)"/>
<circle r="160" pathLength="360" stroke-dasharray="69.35 360" transform="rotate(10.95)"/>
<circle r="190" pathLength="360" stroke-dasharray="5.7 360" transform="rotate(16.7)"/>
<circle r="205" pathLength="360" stroke-dasharray="5.8 360" transform="rotate(22.4)"/>
<circle r="220" pathLength="360" stroke-dasharray="5.7 360" transform="rotate(28.2)"/>
<circle r="235" pathLength="360" stroke-dasharray="5.8 360" transform="rotate(33.9)"/>
<circle r="250" pathLength="360" stroke-dasharray="5.7 360" transform="rotate(39.7)"/>
<circle r="265" pathLength="360" stroke-dasharray="5.8 360" transform="rotate(45.4)"/>
<circle r="280" pathLength="360" stroke-dasharray="5.7 360" transform="rotate(51.2)"/>
<circle r="295" pathLength="360" stroke-dasharray="5.8 360" transform="rotate(56.9)"/>
<circle r="305" pathLength="360" stroke-dasharray="5.9 360" transform="rotate(62.7)"/>
<circle r="315" pathLength="360" stroke-dasharray="6 360" transform="rotate(68.6)"/>
<circle r="185" pathLength="360" stroke-dasharray="5.7 360" transform="rotate(80.3)"/>
<circle r="195" pathLength="360" stroke-dasharray="5.6 360" transform="rotate(86)"/>
<circle r="205" pathLength="360" stroke-dasharray="5.7 360" transform="rotate(91.6)"/>
<circle r="215" pathLength="360" stroke-dasharray="5.8 360" transform="rotate(97.3)"/>
<circle r="228" pathLength="360" stroke-dasharray="5.7 360" transform="rotate(103.1)"/>
<circle r="240" pathLength="360" stroke-dasharray="5.7 360" transform="rotate(108.8)"/>
<circle r="250" pathLength="360" stroke-dasharray="11.5 360" transform="rotate(114.5)"/>
<circle r="195" pathLength="360" stroke-dasharray="5.4 360" transform="rotate(126)"/>
<circle r="205" pathLength="360" stroke-dasharray="5.7 360" transform="rotate(131.4)"/>
<circle r="215" pathLength="360" stroke-dasharray="5.6 360" transform="rotate(137.1)"/>
<circle r="225" pathLength="360" stroke-dasharray="5.7 360" transform="rotate(142.7)"/>
<circle r="235" pathLength="360" stroke-dasharray="5.6 360" transform="rotate(148.4)"/>
<circle r="245" pathLength="360" stroke-dasharray="5.7 360" transform="rotate(154)"/>
<circle r="255" pathLength="360" stroke-dasharray="5.6 360" transform="rotate(159.7)"/>
<circle r="265" pathLength="360" stroke-dasharray="5.7 360" transform="rotate(165.3)"/>
<circle r="275" pathLength="360" stroke-dasharray="5.7 360" transform="rotate(171)"/>
<circle r="285" pathLength="360" stroke-dasharray="5.6 360" transform="rotate(176.7)"/>
<circle r="295" pathLength="360" stroke-dasharray="5.7 360" transform="rotate(182.3)"/>
<circle r="305" pathLength="360" stroke-dasharray="5.6 360" transform="rotate(188)"/>
<circle r="315" pathLength="360" stroke-dasharray="5.6 360" transform="rotate(193.6)"/>
<line x1="25" x2="350" transform="rotate(209.6)"/>
<line x1="290" x2="350" transform="rotate(215.3)"/>
<line x1="290" x2="350" transform="rotate(221)"/>
<line x1="270" x2="350" transform="rotate(226.7)"/>
<line x1="300" x2="350" transform="rotate(232.3)"/>
<line x1="305" x2="350" transform="rotate(238)"/>
<line x1="305" x2="350" transform="rotate(243.7)"/>
<line x1="25" x2="350" transform="rotate(249.4)"/>
<line x1="200" x2="350" transform="rotate(255.9)"/>
<line x1="230" x2="350" transform="rotate(261.5)"/>
<line x1="240" x2="350" transform="rotate(267)"/>
<line x1="250" x2="350" transform="rotate(272.6)"/>
<line x1="255" x2="350" transform="rotate(278.8)"/>
<line x1="260" x2="350" transform="rotate(284.5)"/>
<line x1="268" x2="350" transform="rotate(290.3)"/>
<line x1="276" x2="350" transform="rotate(296)"/>
<line x1="284" x2="350" transform="rotate(301.8)"/>
<line x1="292" x2="350" transform="rotate(307.6)"/>
<line x1="25" x2="350" transform="rotate(313.3)"/>
<line x1="35" x2="350" transform="rotate(319.1)"/>
<line x1="45" x2="350" transform="rotate(324.8)"/>
<line x1="55" x2="350" transform="rotate(330.6)"/>
<line x1="65" x2="350" transform="rotate(336.3)"/>
<line x1="75" x2="350" transform="rotate(342.1)"/>
<line x1="85" x2="350" transform="rotate(347.8)"/>
<line x1="95" x2="350" transform="rotate(353.6)"/>
<line x1="105" x2="350" transform="rotate(359.3)"/>
<line x1="115" x2="350" transform="rotate(5.2)"/>
<line x1="130" x2="350" transform="rotate(10.95)"/>
<line x1="160" x2="350" transform="rotate(16.7)"/>
<line x1="190" x2="350" transform="rotate(22.4)"/>
<line x1="205" x2="350" transform="rotate(28.2)"/>
<line x1="220" x2="350" transform="rotate(33.9)"/>
<line x1="235" x2="350" transform="rotate(39.7)"/>
<line x1="250" x2="350" transform="rotate(45.4)"/>
<line x1="265" x2="350" transform="rotate(51.2)"/>
<line x1="280" x2="350" transform="rotate(56.9)"/>
<line x1="295" x2="350" transform="rotate(62.7)"/>
<line x1="305" x2="350" transform="rotate(68.6)"/>
<line x1="315" x2="350" transform="rotate(74.6)"/>
<line x1="160" x2="350" transform="rotate(80.3)"/>
<line x1="185" x2="350" transform="rotate(86)"/>
<line x1="195" x2="350" transform="rotate(91.6)"/>
<line x1="205" x2="350" transform="rotate(97.3)"/>
<line x1="215" x2="350" transform="rotate(103.1)"/>
<line x1="228" x2="350" transform="rotate(108.8)"/>
<line x1="240" x2="350" transform="rotate(114.5)"/>
<line x1="250" x2="350" transform="rotate(120.3)"/>
<line x1="180" x2="350" transform="rotate(126)"/>
<line x1="195" x2="350" transform="rotate(131.4)"/>
<line x1="205" x2="350" transform="rotate(137.1)"/>
<line x1="215" x2="350" transform="rotate(142.7)"/>
<line x1="225" x2="350" transform="rotate(148.4)"/>
<line x1="235" x2="350" transform="rotate(154)"/>
<line x1="245" x2="350" transform="rotate(159.7)"/>
<line x1="255" x2="350" transform="rotate(165.3)"/>
<line x1="265" x2="350" transform="rotate(171)"/>
<line x1="275" x2="350" transform="rotate(176.7)"/>
<line x1="285" x2="350" transform="rotate(182.3)"/>
<line x1="295" x2="350" transform="rotate(188)"/>
<line x1="305" x2="350" transform="rotate(193.6)"/>
<line x1="315" x2="350" transform="rotate(199.2)"/>
</g>
<g class="dots">
<circle cx="383" r="14" transform="rotate(249.4)"/>
<circle cx="383" r="14" transform="rotate(255.9)"/>
<circle cx="383" r="14" transform="rotate(278.8)"/>
<circle cx="383" r="14" transform="rotate(5.2)"/>
<circle cx="383" r="14" transform="rotate(10.95)"/>
<circle cx="383" r="14" transform="rotate(62.7)"/>
<circle cx="383" r="14" transform="rotate(68.6)"/>
<circle cx="383" r="14" transform="rotate(74.6)"/>
<circle cx="383" r="14" transform="rotate(126)"/>
<circle cx="383" r="14" transform="rotate(131.4)"/>
<circle cx="383" r="14" transform="rotate(171)"/>
</g>
<g id="C-labels" class="t">
<text id="C1" class="f" transform="rotate(209.6) translate(390,0) rotate(180)">csi-miR396b-5p</text>
<text id="C2" class="f" transform="rotate(215.3) translate(386,0) rotate(180)">csi-miR396d-3p</text>
<text id="C3" class="f" transform="rotate(221) translate(382,0) rotate(180)">csi-miR396c</text>
<text id="C4" class="f" transform="rotate(226.7) translate(378,0) rotate(180)">mtr-miR396b-3p</text>
<text id="C5" class="f" transform="rotate(232.3) translate(374,0) rotate(180)">csi-miR396b-3p</text>
<text id="C6" class="f" transform="rotate(238) translate(370,0) rotate(180)">sly-miR396a-3p</text>
<text id="C7" class="f" transform="rotate(243.7) translate(366,0) rotate(180)">ath-miR396a-3p</text>
<text id="C8" class="f" transform="rotate(249.4) translate(415,0) rotate(180)">dk-miR396g</text>
<text id="C9" class="f" transform="rotate(255.9) translate(415,0) rotate(180)">dk-miR396b</text>
<text id="C10" class="f" transform="rotate(261.5) translate(359,0) rotate(180)">csi-miR396a-3p</text>
<text id="C11" class="f" transform="rotate(267) translate(358,0) rotate(180)">mtr-miR396c</text>
<text id="C12" class="n" transform="rotate(272.6) translate(358,0)">ath-miR396b-3p</text>
<text id="C13" class="n" transform="rotate(278.8) translate(415,0)">dk-miR396c</text>
<text id="C14" class="n" transform="rotate(284.5) translate(361,0)">csi-miR396f-3p</text>
<text id="C15" class="n" transform="rotate(290.3) translate(363,0)">mtr-miR396a-3p</text>
<text id="C16" class="n" transform="rotate(296) translate(366,0)">ptc-miR396e-3p</text>
<text id="C17" class="n" transform="rotate(301.8) translate(370,0)">csi-miR396e-3p</text>
<text id="C18" class="n" transform="rotate(307.6) translate(374,0)">ptc-miR396g-3p</text>
<text id="C19" class="n" transform="rotate(313.3) translate(378,0)">vvi-miR396c</text>
<text id="C20" class="n" transform="rotate(319.1) translate(382,0)">mes-miR396d</text>
<text id="C21" class="n" transform="rotate(324.8) translate(386,0)">mes-miR396c</text>
<text id="C22" class="n" transform="rotate(330.6) translate(390,0)">mdm-miR396c</text>
<text id="C23" class="n" transform="rotate(336.3) translate(393,0)">ptc-miR396a</text>
<text id="C24" class="n" transform="rotate(342.1) translate(396,0)">ccl-miR396</text>
<text id="C25" class="n" transform="rotate(347.8) translate(398,0)">sly-miR396b</text>
<text id="C26" class="n" transform="rotate(353.6) translate(400,0)">sly-miR396a-5p</text>
<text id="C27" class="n" transform="rotate(359.3) translate(400,0)">ptc-miR396b</text>
<text id="C28" class="n" transform="rotate(5.2) translate(418,0)">dk-miR396e</text>
<text id="C29" class="n" transform="rotate(10.95) translate(418,0)">dk-miR396i</text>
<text id="C30" class="n" transform="rotate(16.7) translate(397,0)">mdm-miR396b</text>
<text id="C31" class="n" transform="rotate(22.4) translate(394,0)">mes-miR396b</text>
<text id="C32" class="n" transform="rotate(28.2) translate(391,0)">mdm-miR396d</text>
<text id="C33" class="n" transform="rotate(33.9) translate(387,0)">ptc-miR396c</text>
<text id="C34" class="n" transform="rotate(39.7) translate(383,0)">vvi-miR396d</text>
<text id="C35" class="n" transform="rotate(45.4) translate(379,0)">vvi-miR396b</text>
<text id="C36" class="n" transform="rotate(51.2) translate(375,0)">nta-miR396a</text>
<text id="C37" class="n" transform="rotate(56.9) translate(371,0)">csi-miR396a-5p</text>
<text id="C38" class="n" transform="rotate(62.7) translate(415,0)">dk-miR396a</text>
<text id="C39" class="n" transform="rotate(68.6) translate(415,0)">dk-miR396d</text>
<text id="C40" class="n" transform="rotate(74.6) translate(415,0)">dk-miR396h</text>
<text id="C41" class="n" transform="rotate(80.3) translate(359,0)">mes-miR396a</text>
<text id="C42" class="n" transform="rotate(86) translate(358,0)">ath-miR396b-5p</text>
<text id="C43" class="f" transform="rotate(91.6) translate(358,0) rotate(180)">mtr-miR396b-5p</text>
<text id="C44" class="f" transform="rotate(97.3) translate(359,0) rotate(180)">mes-miR396f</text>
<text id="C45" class="f" transform="rotate(103.1) translate(360,0) rotate(180)">ath-miR396a-5p</text>
<text id="C46" class="f" transform="rotate(108.8) translate(362,0) rotate(180)">mtr-miR396a-5p</text>
<text id="C47" class="f" transform="rotate(114.5) translate(365,0) rotate(180)">mdm-miR396e</text>
<text id="C48" class="f" transform="rotate(120.3) translate(369,0) rotate(180)">ptc-miR396e-5p</text>
<text id="C49" class="f" transform="rotate(126) translate(415,0) rotate(180)">dk-miR396k</text>
<text id="C50" class="f" transform="rotate(131.4) translate(415,0) rotate(180)">dk-miR396f</text>
<text id="C51" class="f" transform="rotate(137.1) translate(381,0) rotate(180)">ptc-miR396d</text>
<text id="C52" class="f" transform="rotate(142.7) translate(385,0) rotate(180)">csi-miR396f-5p</text>
<text id="C53" class="f" transform="rotate(148.4) translate(388,0) rotate(180)">nta-miR396c</text>
<text id="C54" class="f" transform="rotate(154) translate(392,0) rotate(180)">vvi-miR396a</text>
<text id="C55" class="f" transform="rotate(159.7) translate(395,0) rotate(180)">mdm-miR396a</text>
<text id="C56" class="f" transform="rotate(165.3) translate(397,0) rotate(180)">mes-miR396e</text>
<text id="C57" class="f" transform="rotate(171) translate(420,0) rotate(180)">dk-miR396j</text>
<text id="C58" class="f" transform="rotate(176.7) translate(400,0) rotate(180)">csi-miR396e-5p</text>
<text id="C59" class="f" transform="rotate(182.3) translate(400,0) rotate(180)">mdm-miR396f</text>
<text id="C60" class="f" transform="rotate(188) translate(399,0) rotate(180)">ptc-miR396f</text>
<text id="C61" class="f" transform="rotate(193.6) translate(398,0) rotate(180)">ptc-miR396g-5p</text>
<text id="C62" class="f" transform="rotate(199.2) translate(395,0) rotate(180)">mdm-miR396g</text>
</g>
</g>
</svg>
